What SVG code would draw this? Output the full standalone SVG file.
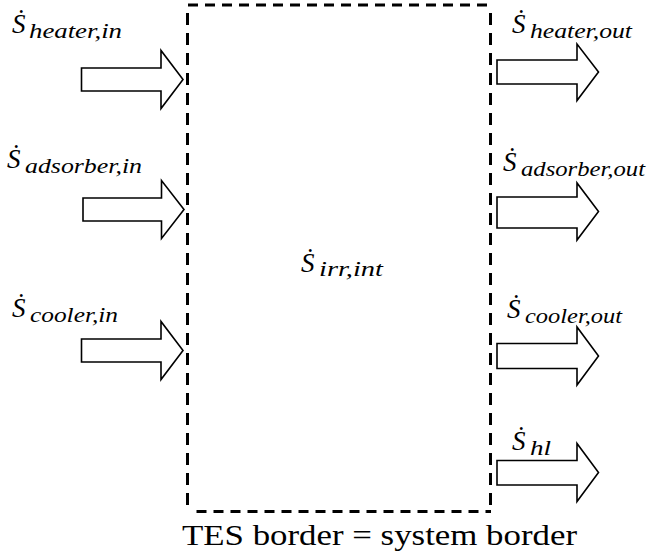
<svg xmlns="http://www.w3.org/2000/svg" width="649" height="558" viewBox="0 0 649 558">
  <style>
    .bg { fill: #ffffff; }
    .border { fill: none; stroke: #000; stroke-width: 3; }
    .bv { stroke-dasharray: 12 8; }
    .bh { stroke-dasharray: 10 7; }
    .flow { fill: #ffffff; stroke: #000; stroke-width: 1.6; stroke-linejoin: miter; }
    text { font-family: "Liberation Serif", serif; fill: #000; }
    .s { font-style: italic; font-size: 27px; }
    .sub { font-style: italic; font-size: 20px; }
    .cap { font-size: 29px; }
  </style>
  <rect class="bg" x="0" y="0" width="649" height="558"/>

  <!-- system boundary of the storage -->
  <g id="tes-border">
    <line class="border bh" x1="188" y1="5" x2="491" y2="5"/>
    <line class="border bh" x1="196.5" y1="511.5" x2="491" y2="511.5"/>
    <line class="border bv" x1="187.5" y1="5" x2="187.5" y2="511.5" stroke-dashoffset="12"/>
    <line class="border bv" x1="490.5" y1="5" x2="490.5" y2="511.5" stroke-dashoffset="12"/>
    <text class="s" x="301" y="272" font-family="Liberation Serif">&#x1E60;</text>
    <text class="sub" x="319" y="276" font-family="Liberation Serif" textLength="64" lengthAdjust="spacingAndGlyphs">irr,int</text>
  </g>

  <g id="caption">
    <text class="cap" x="182" y="545" font-family="Liberation Serif" textLength="395" lengthAdjust="spacingAndGlyphs">TES border = system border</text>
  </g>

  <!-- entropy flows across the border -->
  <g id="connectors" font-family="Liberation Serif">
    <g id="heater-in">
      <path class="flow" d="M81.5,68 H161 V50.5 L183,79.5 L161,108.5 V91 H81.5 Z"/>
      <text class="s" x="12" y="33">&#x1E60;</text>
      <text class="sub" x="29" y="38" textLength="93" lengthAdjust="spacingAndGlyphs">heater,in</text>
    </g>
    <g id="adsorber-in">
      <path class="flow" d="M83,198 H161.5 V180.5 L184,209.5 L161.5,238.5 V221 H83 Z"/>
      <text class="s" x="7" y="168">&#x1E60;</text>
      <text class="sub" x="25" y="173" textLength="117" lengthAdjust="spacingAndGlyphs">adsorber,in</text>
    </g>
    <g id="cooler-in">
      <path class="flow" d="M81.5,339 H161 V321.5 L183,350.5 L161,379.5 V362 H81.5 Z"/>
      <text class="s" x="12" y="317">&#x1E60;</text>
      <text class="sub" x="30" y="322" textLength="88" lengthAdjust="spacingAndGlyphs">cooler,in</text>
    </g>
    <g id="heater-out">
      <path class="flow" d="M497,60 H577 V44 L598.5,72 L577,100.5 V84 H497 Z"/>
      <text class="s" x="512" y="33">&#x1E60;</text>
      <text class="sub" x="530" y="38" textLength="102" lengthAdjust="spacingAndGlyphs">heater,out</text>
    </g>
    <g id="adsorber-out">
      <path class="flow" d="M497,197 H577 V183 L598.5,211.5 L577,240 V228 H497 Z"/>
      <text class="s" x="503" y="171">&#x1E60;</text>
      <text class="sub" x="521" y="176" textLength="124" lengthAdjust="spacingAndGlyphs">adsorber,out</text>
    </g>
    <g id="cooler-out">
      <path class="flow" d="M497,343.5 H577 V327 L598.5,356 L577,385 V368.5 H497 Z"/>
      <text class="s" x="507" y="318">&#x1E60;</text>
      <text class="sub" x="525" y="323" textLength="97" lengthAdjust="spacingAndGlyphs">cooler,out</text>
    </g>
    <g id="heat-loss">
      <path class="flow" d="M497,460.5 H577 V443.5 L598.5,472.5 L577,501.5 V485 H497 Z"/>
      <text class="s" x="512" y="450">&#x1E60;</text>
      <text class="sub" x="530" y="455" textLength="21" lengthAdjust="spacingAndGlyphs">hl</text>
    </g>
  </g>
</svg>
